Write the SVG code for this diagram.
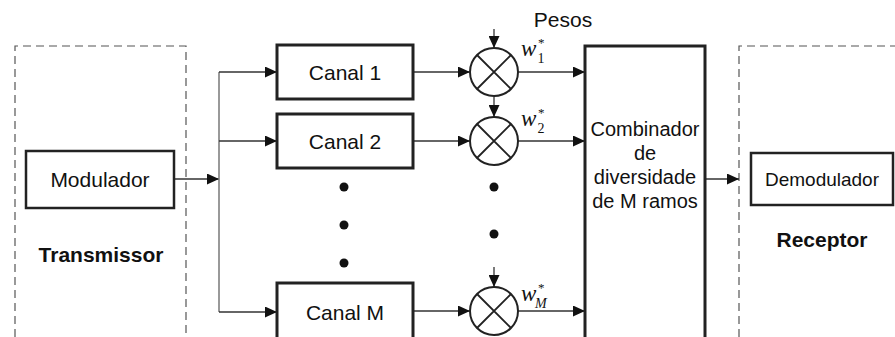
<svg xmlns="http://www.w3.org/2000/svg" width="895" height="337" viewBox="0 0 895 337">
<style>
.bg{fill:#ffffff}
.box{fill:#ffffff;stroke:#222;stroke-width:3}
.box2{fill:#ffffff;stroke:#222;stroke-width:2.5}
.dash{fill:none;stroke:#555;stroke-width:1.2;stroke-dasharray:8,5}
.wire{fill:none;stroke:#333;stroke-width:1.3}
.vwire{fill:none;stroke:#777;stroke-width:1.5}
.t{font-family:"Liberation Sans",Arial,sans-serif;font-size:21px;fill:#111;text-anchor:middle}
.b{font-family:"Liberation Sans",Arial,sans-serif;font-size:21px;font-weight:bold;fill:#111;text-anchor:middle}
.m{font-family:"Liberation Serif","Times New Roman",serif;fill:#111}
.mult{fill:#fff;stroke:#222;stroke-width:2}
.dot{fill:#111}
</style>
<defs>
<marker id="arr" markerUnits="userSpaceOnUse" markerWidth="13" markerHeight="11" refX="12" refY="5.5" orient="auto">
<path d="M0,0 L12,5.5 L0,11 z" fill="#111"/>
</marker>
</defs>
<rect class="bg" x="0" y="0" width="895" height="337"/>

<g id="transmissor">
<path class="dash" d="M15,337 V46 H186 V337"/>
<text class="b" x="101" y="262">Transmissor</text>
</g>
<g id="receptor">
<path class="dash" d="M739,337 V46 H895"/>
<text class="b" x="822" y="247">Receptor</text>
</g>

<g id="connectors">
<path class="wire" d="M174,179 H219" marker-end="url(#arr)"/>
<path class="vwire" d="M219,72 V312"/>
<path class="wire" d="M219,72 H277" marker-end="url(#arr)"/>
<path class="wire" d="M219,141 H277" marker-end="url(#arr)"/>
<path class="wire" d="M219,312 H277" marker-end="url(#arr)"/>
<path class="wire" d="M413,72 H470" marker-end="url(#arr)"/>
<path class="wire" d="M413,141 H470" marker-end="url(#arr)"/>
<path class="wire" d="M413,311 H470" marker-end="url(#arr)"/>
<path class="wire" d="M518,72 H585" marker-end="url(#arr)"/>
<path class="wire" d="M518,141 H585" marker-end="url(#arr)"/>
<path class="wire" d="M518,311 H585" marker-end="url(#arr)"/>
<path class="wire" d="M494,29 V48" marker-end="url(#arr)"/>
<path class="wire" d="M494,97 V117" marker-end="url(#arr)"/>
<path class="wire" d="M494,267 V287" marker-end="url(#arr)"/>
<path class="wire" d="M705,179 H739" marker-end="url(#arr)"/>
</g>

<g id="modulador">
<rect class="box2" x="26" y="151" width="148" height="57"/>
<text class="t" x="100" y="187">Modulador</text>
</g>

<g id="canal1">
<rect class="box" x="277" y="45" width="136" height="54"/>
<text class="t" x="345" y="79.5">Canal 1</text>
</g>
<g id="canal2">
<rect class="box" x="277" y="114" width="136" height="54"/>
<text class="t" x="345" y="148.5">Canal 2</text>
</g>
<g id="canalM">
<rect class="box" x="277" y="283" width="136" height="60"/>
<text class="t" x="345" y="320">Canal M</text>
</g>

<g id="dots-canal">
<circle class="dot" cx="344" cy="187" r="4.5"/>
<circle class="dot" cx="344" cy="225" r="4.5"/>
<circle class="dot" cx="344" cy="263" r="4.5"/>
</g>
<g id="dots-mult">
<circle class="dot" cx="494" cy="187" r="4.5"/>
<circle class="dot" cx="494" cy="234" r="4.5"/>
</g>

<g id="mult1">
<circle class="mult" cx="494" cy="72" r="24"/>
<path class="wire" style="stroke:#222;stroke-width:1.8" d="M477,55 L511,89 M511,55 L477,89"/>
</g>
<g id="mult2">
<circle class="mult" cx="494" cy="141" r="24"/>
<path class="wire" style="stroke:#222;stroke-width:1.8" d="M477,124 L511,158 M511,124 L477,158"/>
</g>
<g id="multM">
<circle class="mult" cx="494" cy="311" r="24"/>
<path class="wire" style="stroke:#222;stroke-width:1.8" d="M477,294 L511,328 M511,294 L477,328"/>
</g>

<g id="pesos">
<text class="t" x="563" y="27">Pesos</text>
</g>
<g id="w1">
<text class="m" font-size="23"><tspan x="521" y="56" font-style="italic">w</tspan><tspan x="537.5" y="63" font-size="14">1</tspan><tspan x="538" y="47" font-size="13">*</tspan></text>
</g>
<g id="w2">
<text class="m" font-size="23"><tspan x="521" y="126" font-style="italic">w</tspan><tspan x="537.5" y="133" font-size="14">2</tspan><tspan x="538" y="117" font-size="13">*</tspan></text>
</g>
<g id="wM">
<text class="m" font-size="23"><tspan x="521" y="301" font-style="italic">w</tspan><tspan x="535" y="308" font-size="14" font-style="italic">M</tspan><tspan x="538" y="292" font-size="13">*</tspan></text>
</g>

<g id="combinador">
<rect class="box" x="585" y="46" width="120" height="300"/>
<text class="t" style="font-size:20px" x="645" y="136">Combinador</text>
<text class="t" style="font-size:20px" x="645" y="160">de</text>
<text class="t" style="font-size:20px" x="645" y="184">diversidade</text>
<text class="t" style="font-size:20px" x="645" y="208">de M ramos</text>
</g>

<g id="demodulador">
<rect class="box2" x="751" y="153" width="142" height="52"/>
<text class="t" style="font-size:19px" x="822" y="186">Demodulador</text>
</g>
</svg>
